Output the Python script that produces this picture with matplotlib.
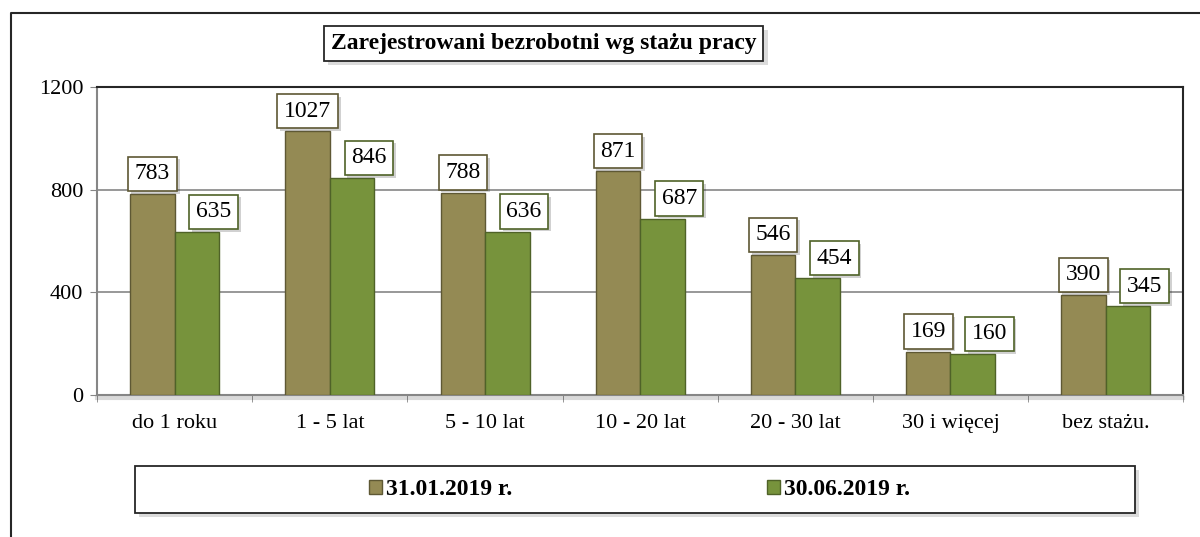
import matplotlib.pyplot as plt
import matplotlib.patheffects as pe
from matplotlib.patches import Rectangle
from matplotlib.lines import Line2D
import numpy as np

plt.rcParams['font.family'] = ['Liberation Serif', 'DejaVu Serif']

categories = ['do 1 roku', '1 - 5 lat', '5 - 10 lat', '10 - 20 lat',
              '20 - 30 lat', '30 i więcej', 'bez stażu.']
jan_2019 = [783, 1027, 788, 871, 546, 169, 390]
jun_2019 = [635, 846, 636, 687, 454, 160, 345]
series_names = ['31.01.2019 r.', '30.06.2019 r.']

olive, olive_edge = '#948A54', '#5E5834'
green, green_edge = '#77933C', '#4F6228'
axis_gray = '#868686'

fig = plt.figure(figsize=(12, 5.37), dpi=100)
ax = fig.add_axes([0.081, 0.2644, 0.905, 0.5736])

x = np.arange(len(categories))
w = 0.287
b1 = ax.bar(x - w / 2, jan_2019, w, color=olive, edgecolor=olive_edge, linewidth=1, zorder=3)
b2 = ax.bar(x + w / 2, jun_2019, w, color=green, edgecolor=green_edge, linewidth=1, zorder=3)

shadow = [pe.withSimplePatchShadow(offset=(2, -2), shadow_rgbFace='#000000', alpha=0.18)]

def label(xs, vals, edge, dx):
    for xi, v in zip(xs, vals):
        a = ax.annotate(str(v), (xi, v), xytext=(dx, 7), textcoords='offset points',
                        ha='center', va='bottom', fontsize=17, zorder=5,
                        bbox=dict(boxstyle='square,pad=0.28', fc='white', ec=edge, lw=1.2))
        a.get_bbox_patch().set_path_effects(shadow)

label(x - w / 2, jan_2019, olive_edge, 0)
label(x + w / 2, jun_2019, green_edge, 12)

ax.set_xlim(-0.5, len(categories) - 0.5)
ax.set_ylim(0, 1200)
ax.set_yticks([0, 400, 800, 1200])
ax.tick_params(axis='y', labelsize=16, length=5, color=axis_gray, pad=5)
ax.set_xticks(x)
ax.set_xticklabels(categories, fontsize=16)
ax.tick_params(axis='x', length=0, pad=14)
ax.set_xticks(np.arange(-0.5, len(categories)), minor=True)
ax.tick_params(axis='x', which='minor', length=5, color=axis_gray)
ax.yaxis.grid(True, color=axis_gray, linewidth=1.2, zorder=0)
ax.set_axisbelow(True)

for s in ['top', 'right']:
    ax.spines[s].set_color('#262626')
    ax.spines[s].set_linewidth(1.5)
for s in ['left', 'bottom']:
    ax.spines[s].set_color(axis_gray)
    ax.spines[s].set_linewidth(1.5)
ax.spines['bottom'].set_path_effects([pe.SimpleLineShadow(offset=(0, -2), alpha=0.15, linewidth=3), pe.Normal()])

# outer chart frame (left and top edges visible)
fig.add_artist(Line2D([0.0092, 0.0092, 1.0], [0.0, 0.9758, 0.9758],
                      transform=fig.transFigure, color='#262626', lw=1.5))

# title box
t = fig.text(0.453, 0.919, 'Zarejestrowani bezrobotni wg stażu pracy', ha='center', va='center',
             fontsize=17, fontweight='bold',
             bbox=dict(boxstyle='square,pad=0.3', fc='white', ec='#262626', lw=1.3))
t.get_bbox_patch().set_path_effects([pe.withSimplePatchShadow(offset=(3, -3), alpha=0.2)])

# legend box
box = Rectangle((0.1125, 0.0447), 0.833, 0.0875, transform=fig.transFigure,
                fc='white', ec='#262626', lw=1.3)
box.set_path_effects([pe.withSimplePatchShadow(offset=(3, -3), alpha=0.2)])
fig.add_artist(box)
fig.legend([b1, b2], series_names, loc='center', bbox_to_anchor=(0.533, 0.0885),
           ncol=2, frameon=False, prop={'size': 17, 'weight': 'bold'},
           handlelength=0.55, handleheight=0.55, handletextpad=0.15, columnspacing=10.8)

fig.savefig('out.png', dpi=100)
